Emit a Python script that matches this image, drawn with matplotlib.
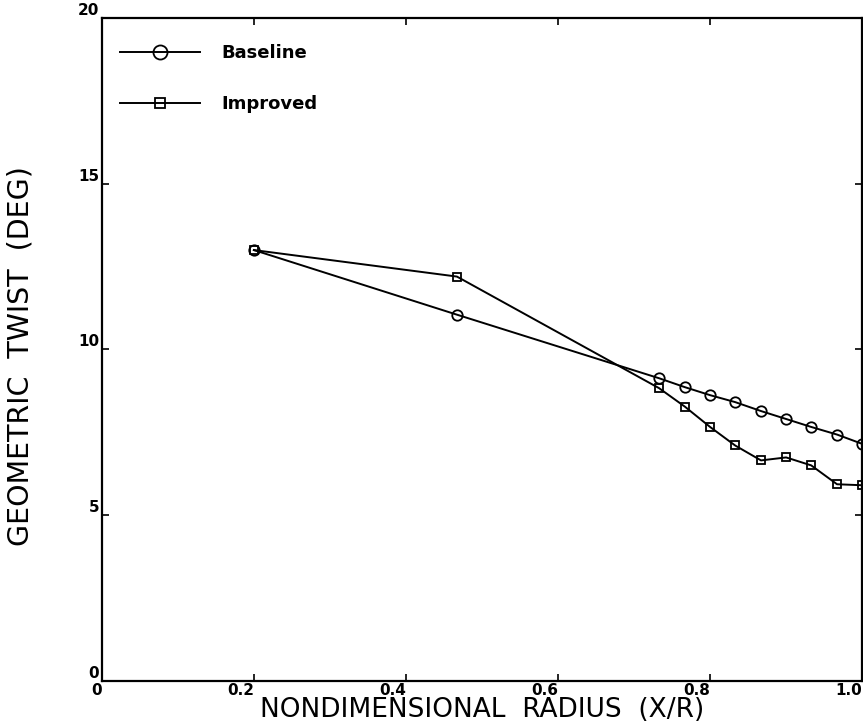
import numpy as np
import matplotlib
matplotlib.use("Agg")
import matplotlib.pyplot as plt

# Nondimensional radius stations (X/R)
radius = [0.2, 0.467, 0.733, 0.767, 0.8, 0.833, 0.867, 0.9, 0.933, 0.967, 1.0]
# Geometric twist (deg)
twist_baseline = [13.0, 11.05, 9.13, 8.86, 8.62, 8.41, 8.14, 7.90, 7.66, 7.43, 7.15]
twist_improved = [13.0, 12.2, 8.83, 8.27, 7.66, 7.10, 6.65, 6.74, 6.50, 5.93, 5.90]

xticks = [0, 0.2, 0.4, 0.6, 0.8, 1.0]
xtick_labels = ["0", "0.2", "0.4", "0.6", "0.8", "1.0"]
yticks = [0, 5, 10, 15, 20]
ytick_labels = ["0", "5", "10", "15", "20"]

fig = plt.figure(figsize=(8.63, 7.28), dpi=100)
ax = fig.add_axes([0.118, 0.065, 0.881, 0.91])

ax.plot(radius, twist_baseline, "k-", lw=1.4, marker="o", ms=7.5,
        mfc="none", mec="k", mew=1.3, label="Baseline")
ax.plot(radius, twist_improved, "k-", lw=1.4, marker="s", ms=5.5,
        mfc="none", mec="k", mew=1.3, label="Improved")

ax.set_xlim(0, 1.0)
ax.set_ylim(0, 20)
ax.set_xticks(xticks)
ax.set_xticklabels(xtick_labels, fontsize=11, fontweight="bold", ha="right")
ax.set_yticks(yticks)
ax.set_yticklabels(ytick_labels, fontsize=11, fontweight="bold", va="bottom")
ax.tick_params(direction="in", length=5, width=1.2, top=True, right=True, pad=2)
for s in ax.spines.values():
    s.set_linewidth(1.6)

ax.set_xlabel("NONDIMENSIONAL  RADIUS  (X/R)", fontsize=19, labelpad=-1)
ax.set_ylabel("GEOMETRIC  TWIST  (DEG)", fontsize=20.5)
ax.yaxis.set_label_coords(-0.088, 0.49)

# legend: long handle with the marker in the middle, no frame
leg = ax.legend(loc="upper left", frameon=False, handlelength=4.4,
                markerscale=1.35, labelspacing=1.8, handletextpad=1.2,
                prop={"size": 13, "weight": "bold"},
                bbox_to_anchor=(0.003, 0.985))

plt.savefig("out.png", dpi=100)
